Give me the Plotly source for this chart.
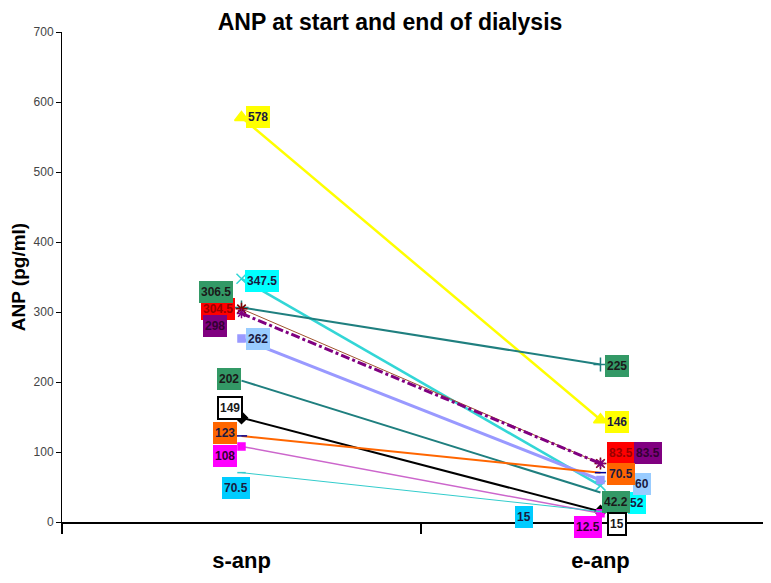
import plotly.graph_objects as go

categories = ["s-anp", "e-anp"]
start_vals = [578, 347.5, 306.5, 304.5, 298, 262, 202, 149, 123, 108, 70.5]
end_vals = [146, 52, 225, 83.5, 83.5, 60, 42.2, 15, 70.5, 12.5, 15]
start_labels = ["578", "347.5", "306.5", "304.5", "298", "262", "202", "149", "123", "108", "70.5"]
end_labels = ["146", "52", "225", "83.5", "83.5", "60", "42.2", "15", "70.5", "12.5", "15"]
y_ticks = [0, 100, 200, 300, 400, 500, 600, 700]

# styles (kept separate from the data)
line_colors = ["#FFFF00", "#33D6D6", "#1F7F7F", "#A0522D", "#800080", "#9999FF",
               "#1F7F7F", "#000000", "#FF6600", "#CC66CC", "#33CCCC"]
line_widths = [2.5, 2.5, 2, 1, 3, 3, 2, 2, 2, 1.5, 1]
line_dash = ["solid", "solid", "solid", "solid", "dashdot", "solid",
             "solid", "solid", "solid", "solid", "solid"]
trace_modes = ["lines+markers"] * 6 + ["lines"] + ["lines+markers"] * 4
marker_symbols = ["triangle-up", "x-thin-open", "cross-thin-open", "asterisk-open", "asterisk-open",
                  "square", "circle", "diamond", "line-ew-open", "square", "line-ew-open"]
marker_colors = ["#FFFF00", "#33D6D6", "#1F7F7F", "#800000", "#800080", "#9999FF",
                 "#1F7F7F", "#000000", "#000099", "#FF00FF", "#33CCCC"]
marker_sizes = [12, 10, 10, 10, 8, 7, 6, 9, 8, 7, 6]
box_colors = ["#FFFF00", "#00FFFF", "#339966", "#FF0000", "#800080", "#99CCFF",
              "#339966", "#FFFFFF", "#FF6600", "#FF00FF", "#00CCFF"]
text_colors = ["#1a1a40", "#1a1a40", "#1a1a1a", "#990000", "#330033", "#1a1a40",
               "#1a1a1a", "#1a1a1a", "#1a1a40", "#330033", "#1a1a40"]
start_shift = [(17, 0), (21, -2), (-25, 15), (-23, 0), (-26, -13), (17, 0),
               (-12, 2), (-11, 10), (-16, 3), (-16, -10), (-5, -15)]
end_shift = [(17, -2), (37, -17), (17, -1), (21, 11), (48, 11), (42, -4),
             (16, -10), (17, -12), (21, -1), (-12, -14), (-76, -5)]
annot_order = [3, 2, 4, 0, 1, 5, 6, 7, 8, 9, 10]

fig = go.Figure()
for i in range(len(start_vals)):
    fig.add_trace(go.Scatter(
        x=categories, y=[start_vals[i], end_vals[i]], mode=trace_modes[i],
        line=dict(color=line_colors[i], width=line_widths[i], dash=line_dash[i]),
        marker=dict(symbol=marker_symbols[i], color=marker_colors[i], size=marker_sizes[i],
                    line=dict(color=marker_colors[i], width=1.5)),
        showlegend=False, hoverinfo="y"))

annotations = []
lab_font = "Liberation Sans Narrow, Arial Narrow, Liberation Sans, Arial"
for i in annot_order:
    for cat, val, lab, sh in ((categories[0], start_vals[i], start_labels[i], start_shift[i]),
                              (categories[1], end_vals[i], end_labels[i], end_shift[i])):
        is_white = box_colors[i] == "#FFFFFF"
        annotations.append(dict(
            x=cat, y=val, xref="x", yref="y", text="<b>%s</b>" % lab, showarrow=False,
            xshift=sh[0], yshift=sh[1], bgcolor=box_colors[i],
            bordercolor="#000000" if is_white else box_colors[i],
            borderwidth=2 if is_white else 1, borderpad=1, height=18,
            font=dict(family=lab_font, size=12, color=text_colors[i])))

# page body has an 8px margin: figure is sized/offset to compensate
fig.update_layout(
    width=763, height=575,
    margin=dict(l=54, r=0, t=24, b=61),
    paper_bgcolor="white", plot_bgcolor="white",
    title=dict(text="<b>ANP at start and end of dialysis</b>", x=382 / 763, xref="container",
               xanchor="center", y=1 - 14 / 575, yref="container", yanchor="middle",
               font=dict(family="Liberation Sans, Arial", size=23, color="#000000")),
    annotations=annotations,
    xaxis=dict(type="category", categoryorder="array", categoryarray=categories,
               range=[-0.5, 1.475], tickson="boundaries", ticks="outside", ticklen=10,
               tickwidth=1.5, tickcolor="#000", showline=True, linecolor="#000", linewidth=2,
               showgrid=False, zeroline=False, ticklabelstandoff=18, automargin=False,
               tickfont=dict(family="Liberation Sans, Arial", size=22, color="#000", weight="bold")),
    yaxis=dict(range=[0, 700], tickvals=y_ticks, ticks="outside", ticklen=5, tickcolor="#000",
               showline=True, linecolor="#000", linewidth=1, showgrid=False, zeroline=False,
               automargin=False,
               tickfont=dict(family=lab_font, size=12, color="#444"),
               title=dict(text="<b>ANP (pg/ml)</b>", standoff=4,
                          font=dict(family="Liberation Sans, Arial", size=19, color="#000"))),
)

fig.write_html("out.html")
